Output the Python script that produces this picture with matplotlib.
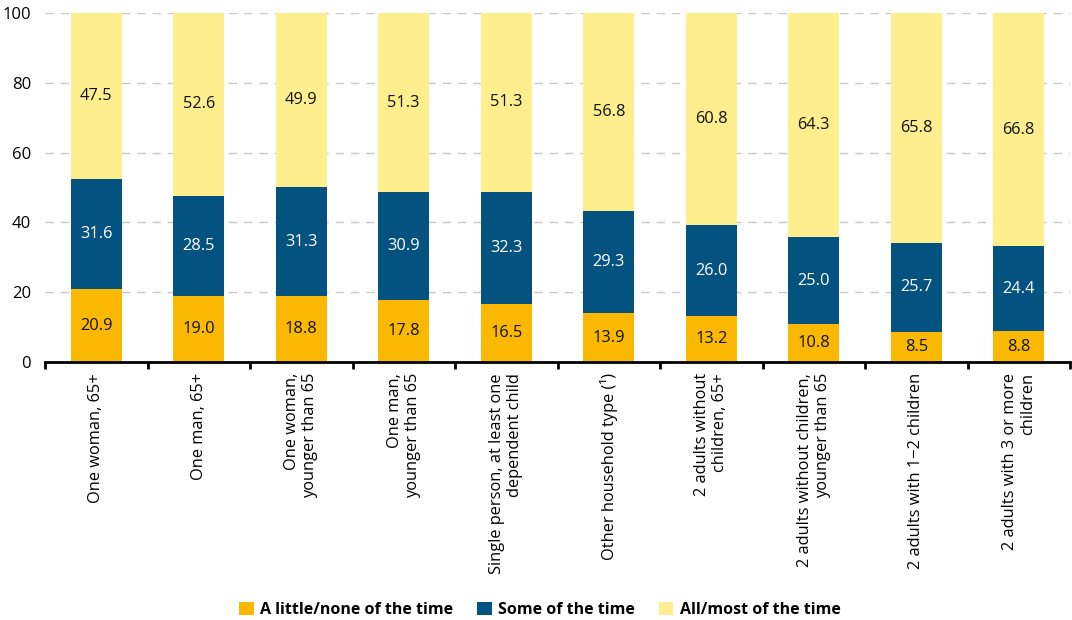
import matplotlib
matplotlib.use("Agg")
import matplotlib.pyplot as plt
import numpy as np

categories = [
    "One woman, 65+",
    "One man, 65+",
    "One woman,\nyounger than 65",
    "One man,\nyounger than 65",
    "Single person, at least one\ndependent child",
    "Other household type (¹)",
    "2 adults without\nchildren, 65+",
    "2 adults without children,\nyounger than 65",
    "2 adults with 1\u22122 children",
    "2 adults with 3 or more\nchildren",
]
little = [20.9, 19.0, 18.8, 17.8, 16.5, 13.9, 13.2, 10.8, 8.5, 8.8]
some = [31.6, 28.5, 31.3, 30.9, 32.3, 29.3, 26.0, 25.0, 25.7, 24.4]
most = [47.5, 52.6, 49.9, 51.3, 51.3, 56.8, 60.8, 64.3, 65.8, 66.8]
series_names = ["A little/none of the time", "Some of the time", "All/most of the time"]
yticks = [0, 20, 40, 60, 80, 100]

colors = ["#FAB900", "#03527F", "#FFEE8D"]
text_colors = ["#111111", "white", "#111111"]

plt.rcParams['font.family'] = ['Open Sans', 'DejaVu Sans']

fig = plt.figure(figsize=(10.72, 6.2), dpi=100)
ax = fig.add_axes([45/1072, 1-362/620, 1-45/1072 - 2/1072, (362-13)/620])

x = np.arange(len(categories))
bottom = np.zeros(len(categories))
handles = []
for vals, c, tc, name in zip([little, some, most], colors, text_colors, series_names):
    vals = np.array(vals)
    b = ax.bar(x, vals, width=0.5, bottom=bottom, color=c, label=name, zorder=2)
    handles.append(b)
    for xi, v, bt in zip(x, vals, bottom):
        ax.text(xi, bt + v/2, f"{v:.1f}", ha="center", va="center",
                color=tc, fontsize=11.8, zorder=3)
    bottom = bottom + vals

ax.set_xlim(-0.5, len(categories) - 0.5)
ax.set_ylim(0, 100)
ax.set_yticks(yticks)
ax.set_yticklabels([str(t) for t in yticks], fontsize=12)
ax.tick_params(axis="y", length=0, pad=10)
for t in yticks[1:]:
    ax.axhline(t, color="#C8C8C8", lw=1, ls=(0, (6, 5)), zorder=1)

ax.set_xticks(x)
ax.set_xticklabels(categories, rotation=90, fontsize=11.8, va="top", ha="center",
                   multialignment="right")
ax.tick_params(axis="x", length=0, pad=8)
ax.set_xticks(np.arange(-0.5, len(categories), 1.0), minor=True)
ax.tick_params(axis="x", which="minor", length=5, width=2, color="black", direction="out")

for s in ["top", "right", "left"]:
    ax.spines[s].set_visible(False)
ax.spines["bottom"].set_linewidth(2)
ax.spines["bottom"].set_zorder(4)

leg = fig.legend(handles=handles, labels=series_names, loc="center", ncol=3,
                 bbox_to_anchor=(540/1072, 1-610/620), frameon=False,
                 prop={"weight": "bold", "size": 11.5},
                 handlelength=0.9, handleheight=0.9, handletextpad=0.4, columnspacing=1.5)

fig.savefig("out.png", dpi=100)
